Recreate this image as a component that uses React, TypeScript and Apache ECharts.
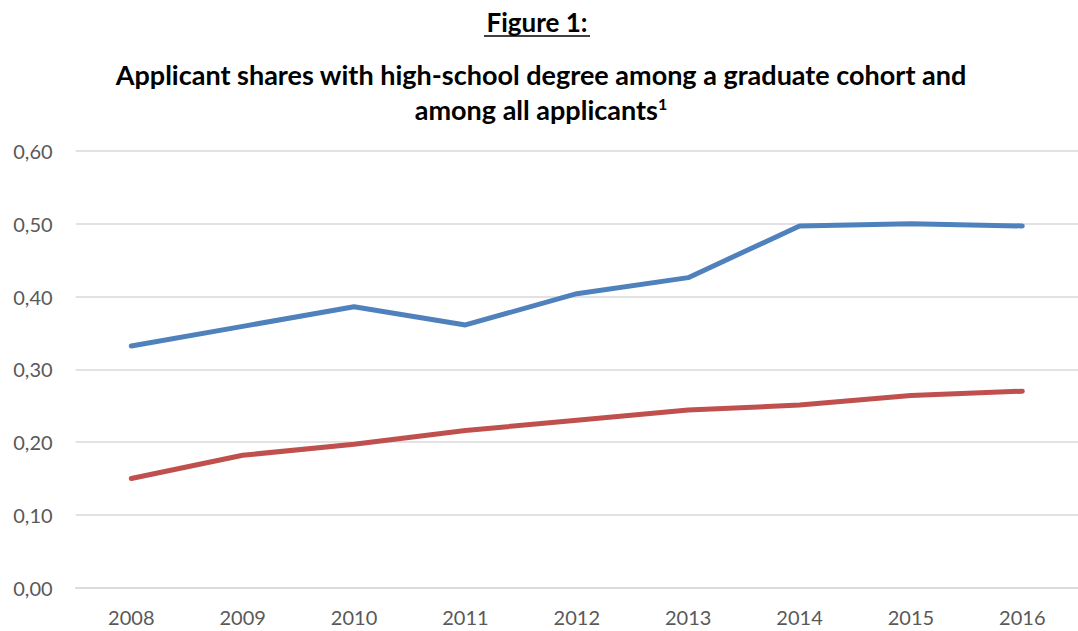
import React, { useEffect, useRef } from "react";
import * as echarts from "echarts";

const years = ["2008", "2009", "2010", "2011", "2012", "2013", "2014", "2015", "2016"];
const graduateCohort = [0.332, 0.359, 0.386, 0.361, 0.404, 0.426, 0.497, 0.5, 0.497];
const allApplicants = [0.15, 0.182, 0.197, 0.216, 0.23, 0.244, 0.251, 0.264, 0.27];
const figureLabel = "Figure 1:";
const titleLine1 = "Applicant shares with high-school degree among a graduate cohort and";
const titleLine2 = "among all applicants";

const FONT = "Lato, 'Open Sans', sans-serif";

export default function App() {
  const ref = useRef<HTMLDivElement>(null);
  useEffect(() => {
    if (!ref.current) return;
    const chart = echarts.init(ref.current, null, { renderer: "svg" });
    chart.setOption({
      animation: false,
      backgroundColor: "#ffffff",
      textStyle: { fontFamily: FONT },
      grid: { left: 75.6, right: -13, top: 151, bottom: 43.3, containLabel: false },
      xAxis: {
        type: "category",
        data: years,
        boundaryGap: true,
        axisLine: { show: true, lineStyle: { color: "#D9D9D9", width: 1.5 } },
        axisTick: { show: false },
        axisLabel: { color: "#595959", fontSize: 20, fontFamily: FONT, margin: 19 },
      },
      yAxis: {
        type: "value",
        min: 0,
        max: 0.6,
        interval: 0.1,
        axisLine: { show: false },
        axisTick: { show: false },
        splitLine: { show: true, lineStyle: { color: "#D9D9D9", width: 1.5 } },
        axisLabel: {
          color: "#595959",
          fontSize: 20,
          fontFamily: FONT,
          margin: 23,
          formatter: (v: number) => v.toFixed(2).replace(".", ","),
        },
      },
      series: [
        {
          name: "Graduate cohort",
          type: "line",
          data: graduateCohort,
          showSymbol: false,
          symbol: "none",
          lineStyle: { color: "#4F81BD", width: 5, cap: "round", join: "round" },
          itemStyle: { color: "#4F81BD" },
        },
        {
          name: "All applicants",
          type: "line",
          data: allApplicants,
          showSymbol: false,
          symbol: "none",
          lineStyle: { color: "#C0504D", width: 5, cap: "round", join: "round" },
          itemStyle: { color: "#C0504D" },
        },
      ],
      graphic: [
        {
          type: "text",
          x: 537,
          y: 22,
          style: {
            text: figureLabel,
            fontFamily: FONT,
            fontWeight: "bold",
            fontSize: 26,
            fill: "#000000",
            align: "center",
            verticalAlign: "middle",
          },
        },
        {
          type: "line",
          shape: { x1: 484, y1: 36, x2: 590, y2: 36 },
          style: { stroke: "#000000", lineWidth: 1.5 },
        },
        {
          type: "text",
          x: 541,
          y: 74,
          style: {
            text: titleLine1,
            fontFamily: FONT,
            fontWeight: "bold",
            fontSize: 27,
            fill: "#000000",
            align: "center",
            verticalAlign: "middle",
          },
        },
        {
          type: "text",
          x: 541,
          y: 109,
          style: {
            text: titleLine2 + "{sup|1}",
            fontFamily: FONT,
            fontWeight: "bold",
            fontSize: 27,
            fill: "#000000",
            align: "center",
            verticalAlign: "middle",
            rich: {
              sup: {
                fontFamily: FONT,
                fontWeight: "bold",
                fontSize: 16,
                fill: "#000000",
                verticalAlign: "top",
                padding: [0, 0, 12, 0],
              },
            },
          },
        },
      ],
    });
    return () => chart.dispose();
  }, []);
  return (
    <div
      ref={ref}
      style={{ position: "fixed", left: 0, top: 0, width: 1078, height: 631, background: "#fff" }}
    />
  );
}
